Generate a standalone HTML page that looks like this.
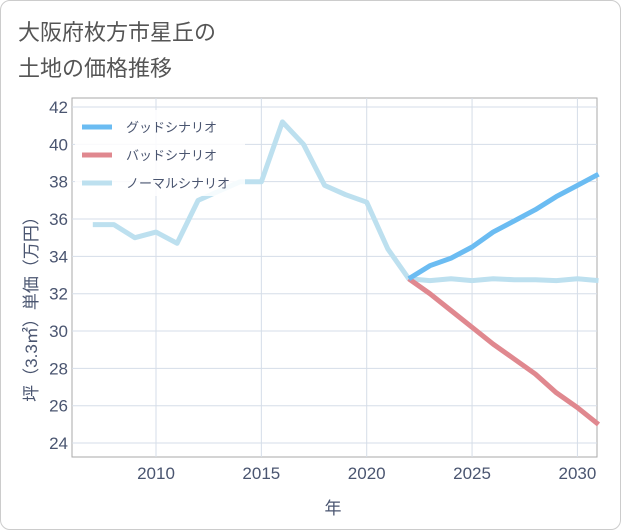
<!DOCTYPE html>
<html><head><meta charset="utf-8"><style>
body{margin:0;background:#fff;font-family:"Liberation Sans","Noto Sans CJK JP",sans-serif;}
#wrap{position:relative;width:619px;height:528px;border:1px solid #ccc;border-radius:10px;background:#fff;overflow:hidden}
</style></head><body>
<div id="wrap">
<svg id="chart" width="621" height="530" style="position:absolute;left:-1px;top:-1px"></svg>
</div>
<script>
const years=[2007,2008,2009,2010,2011,2012,2013,2014,2015,2016,2017,2018,2019,2020,2021,2022,2023,2024,2025,2026,2027,2028,2029,2030,2031];
const normalVals=[35.7,35.7,35.0,35.3,34.7,37.0,37.5,38.0,38.0,41.2,40.0,37.8,37.3,36.9,34.4,32.8,32.7,32.8,32.7,32.8,32.75,32.75,32.7,32.8,32.7];
const futureYears=[2022,2023,2024,2025,2026,2027,2028,2029,2030,2031];
const goodVals=[32.8,33.5,33.9,34.5,35.3,35.9,36.5,37.2,37.8,38.4];
const badVals=[32.8,32.0,31.1,30.2,29.3,28.5,27.7,26.7,25.9,25.0];
const yTicks=[24,26,28,30,32,34,36,38,40,42];
const xTicks=[2010,2015,2020,2025,2030];
const NS="http://www.w3.org/2000/svg";
const svg=document.getElementById('chart');
const L=72,R=597,T=98,B=457;
const x=v=>156+(v-2010)*21.07;
const y=v=>107+(42-v)*18.67;
function mk(t,a,p){const e=document.createElementNS(NS,t);for(const k in a)e.setAttribute(k,a[k]);(p||svg).appendChild(e);return e;}
function txt(s,a){const e=mk('text',a);e.textContent=s;return e;}
let e;
e=txt('大阪府枚方市星丘の',{x:18,y:40,'font-size':22,fill:'#555'});


e=txt('土地の価格推移',{x:18,y:76,'font-size':22,fill:'#555'});


e=mk('rect',{x:L,y:T,width:R-L,height:B-T,fill:'#fff',stroke:'#aaa','stroke-width':1});


yTicks.forEach(v=>{
 e=mk('line',{x1:L,x2:R,y1:y(v),y2:y(v),stroke:'#d5dde8','stroke-width':1});
 
 
 e=txt(v,{x:L-4,y:y(v)+6,'font-size':17,fill:'#4a5570','text-anchor':'end'});
 
 
});
xTicks.forEach(v=>{
 e=mk('line',{x1:x(v),x2:x(v),y1:T,y2:B,stroke:'#d5dde8','stroke-width':1});
 
 
 e=txt(v,{x:x(v),y:B+22,'font-size':17,fill:'#4a5570','text-anchor':'middle'});
 
 
});
e=txt('年',{x:333,y:514,'font-size':17,fill:'#4a5570','text-anchor':'middle'});


e=txt('坪（3.3㎡）単価（万円）',{x:0,y:0,'font-size':17,fill:'#4a5570','text-anchor':'middle',transform:'translate(37,305) rotate(-90)'});


function line(xs,vs,col,name){
 const d=xs.map((v,i)=>(i?'L':'M')+x(v).toFixed(1)+','+y(vs[i]).toFixed(1)).join('');
 const p=mk('path',{d:d,fill:'none',stroke:col,'stroke-width':5,'stroke-linejoin':'round'});
 
 
}
const cp=mk('clipPath',{id:'cp'});mk('rect',{x:L,y:T,width:R-L,height:B-T},cp);
line(years,normalVals,'#bde0ef','normal-scenario-line');
line(futureYears,badVals,'#e0888f','bad-scenario-line');
line(futureYears,goodVals,'#6bbcf2','good-scenario-line');
e=mk('rect',{x:75,y:110,width:170,height:86,fill:'#fff','fill-opacity':0.85});


[['グッドシナリオ','#6bbcf2',127],['バッドシナリオ','#e0888f',155],['ノーマルシナリオ','#bde0ef',183]].forEach(([t,c,yy])=>{
 e=mk('line',{x1:82,x2:112,y1:yy,y2:yy,stroke:c,'stroke-width':5});
 
 
 e=txt(t,{x:126,y:yy+5,'font-size':13,fill:'#4a5570'});
 
 
});
</script>
</body></html>
